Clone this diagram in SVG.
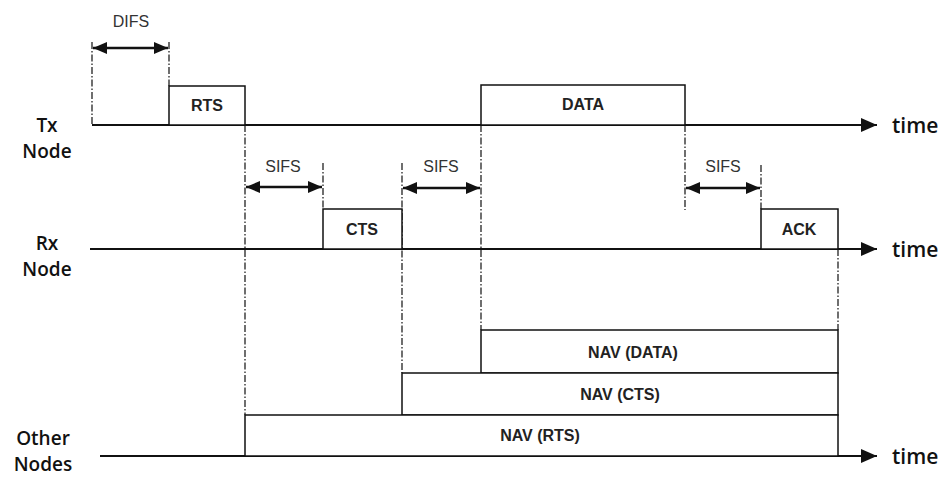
<svg xmlns="http://www.w3.org/2000/svg" width="945" height="480" viewBox="0 0 945 480">
<style>
.ln{stroke:#111;stroke-width:2;fill:none}
.box{stroke:#111;stroke-width:1.5;fill:#fff}
.dash{stroke:#222;stroke-width:1.3;stroke-dasharray:7,2,1.5,2;fill:none}
.dim{stroke:#111;stroke-width:2.5;fill:none}
.lbl{font-family:"Open Sans","Liberation Sans",sans-serif;font-weight:600;font-size:19px;fill:#111;text-anchor:middle}
.time{font-family:"Open Sans","Liberation Sans",sans-serif;font-weight:600;font-size:21px;fill:#111}
.frm{font-family:"Liberation Sans",Arial,sans-serif;font-weight:bold;font-size:16px;fill:#222;text-anchor:middle}
.ifs{font-family:"Liberation Sans",Arial,sans-serif;font-size:16px;fill:#333;text-anchor:middle}
</style>
<defs>
<marker id="ta" viewBox="0 0 16 14" refX="16" refY="7" markerWidth="16" markerHeight="14" markerUnits="userSpaceOnUse" orient="auto">
<path d="M0,0 L16,7 L0,14 z" fill="#111"/>
</marker>
<marker id="da" viewBox="0 0 14 12" refX="14" refY="6" markerWidth="14" markerHeight="12" markerUnits="userSpaceOnUse" orient="auto-start-reverse">
<path d="M0,0 L14,6 L0,12 z" fill="#111"/>
</marker>
</defs>

<g id="labels">
<text class="lbl" x="47" y="132">Tx</text>
<text class="lbl" x="47" y="158">Node</text>
<text class="lbl" x="47" y="250">Rx</text>
<text class="lbl" x="47" y="276">Node</text>
<text class="lbl" x="43" y="445">Other</text>
<text class="lbl" x="43" y="471">Nodes</text>
<text class="time" x="892" y="133">time</text>
<text class="time" x="892" y="257">time</text>
<text class="time" x="892" y="464">time</text>
</g>

<g id="connectors">
<line class="ln" x1="92" y1="125" x2="877" y2="125" marker-end="url(#ta)"/>
<line class="ln" x1="90" y1="249" x2="877" y2="249" marker-end="url(#ta)"/>
<line class="ln" x1="100" y1="456" x2="877" y2="456" marker-end="url(#ta)"/>
<line class="dash" x1="92" y1="42" x2="92" y2="125"/>
<line class="dash" x1="169" y1="42" x2="169" y2="86"/>
<line class="dash" x1="245" y1="125" x2="245" y2="415"/>
<line class="dash" x1="323" y1="163" x2="323" y2="209"/>
<line class="dash" x1="402" y1="163" x2="402" y2="373"/>
<line class="dash" x1="481" y1="125" x2="481" y2="330"/>
<line class="dash" x1="685" y1="125" x2="685" y2="210"/>
<line class="dash" x1="761" y1="165" x2="761" y2="209"/>
<line class="dash" x1="838" y1="249" x2="838" y2="330"/>
<line class="dim" x1="93" y1="48" x2="168" y2="48" marker-start="url(#da)" marker-end="url(#da)"/>
<line class="dim" x1="246" y1="187" x2="322" y2="187" marker-start="url(#da)" marker-end="url(#da)"/>
<line class="dim" x1="403" y1="188" x2="480" y2="188" marker-start="url(#da)" marker-end="url(#da)"/>
<line class="dim" x1="686" y1="188" x2="760" y2="188" marker-start="url(#da)" marker-end="url(#da)"/>
<text class="ifs" x="131" y="27">DIFS</text>
<text class="ifs" x="283" y="172">SIFS</text>
<text class="ifs" x="441" y="172">SIFS</text>
<text class="ifs" x="723" y="172">SIFS</text>
</g>

<g id="rts"><rect class="box" x="169" y="86" width="76" height="39"/><text class="frm" x="207" y="111">RTS</text></g>
<g id="data"><rect class="box" x="481" y="85" width="204" height="40"/><text class="frm" x="583" y="110">DATA</text></g>
<g id="cts"><rect class="box" x="323" y="209" width="79" height="40"/><text class="frm" x="362" y="235">CTS</text></g>
<g id="ack"><rect class="box" x="761" y="209" width="77" height="40"/><text class="frm" x="799" y="235">ACK</text></g>
<g id="nav-data"><rect class="box" x="481" y="330" width="357" height="43"/><text class="frm" x="633" y="358">NAV (DATA)</text></g>
<g id="nav-cts"><rect class="box" x="402" y="373" width="436" height="42"/><text class="frm" x="620" y="400">NAV (CTS)</text></g>
<g id="nav-rts"><rect class="box" x="245" y="415" width="593" height="41"/><text class="frm" x="540" y="441">NAV (RTS)</text></g>
</svg>
